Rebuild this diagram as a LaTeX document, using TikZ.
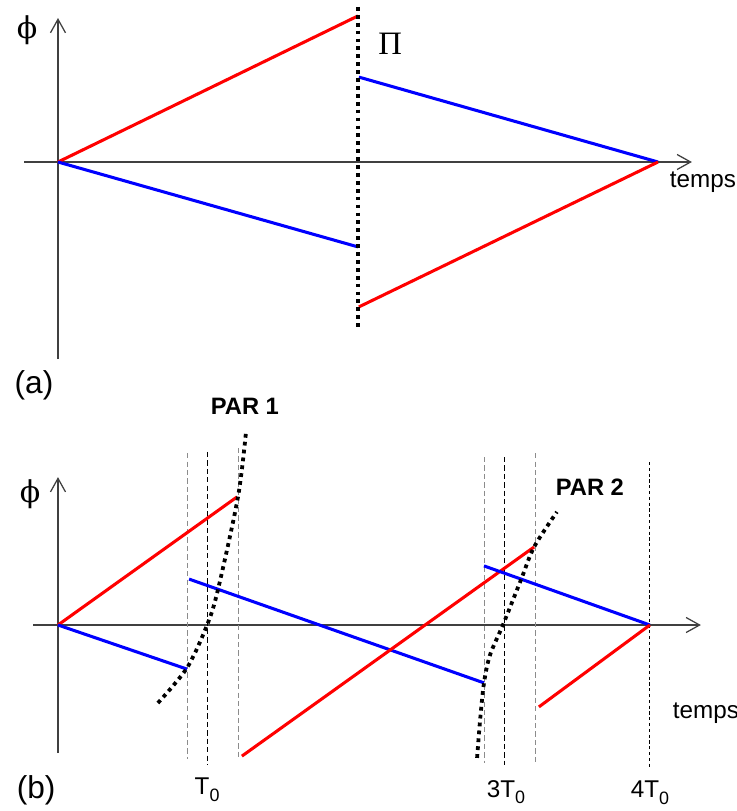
\documentclass[tikz,border=0pt]{standalone}
\usepackage{fontspec}
\setmainfont{Liberation Sans}
\newfontfamily\phifont{DejaVu Serif}
\newfontfamily\pifont{Liberation Serif}
\usetikzlibrary{arrows.meta}
\newcommand{\sub}[1]{\raisebox{-0.28em}{\fontsize{17}{20}\selectfont #1}}

\tikzset{
  axis/.style={line width=1.3pt, draw=black!75, -{Straight Barb[length=4.5mm, width=5mm, line width=1.2pt]}},
  redline/.style={red, line width=2.9pt},
  blueline/.style={blue, line width=2.9pt},
  fatdots/.style={line width=3.6pt, dash pattern=on 3.6pt off 3.9pt},
  greydash/.style={black!45, line width=0.9pt, dash pattern=on 5pt off 3pt},
  blackdash/.style={black, line width=0.9pt, dash pattern=on 5pt off 3pt},
  finedash/.style={black, line width=0.8pt, dash pattern=on 3pt off 2.5pt},
  lbl/.style={font=\fontsize{23}{27}\selectfont, inner sep=0pt},
  panellbl/.style={font=\fontsize{30}{36}\selectfont, inner sep=0pt},
  boldlbl/.style={font=\fontsize{22.5}{27}\selectfont\bfseries, inner sep=0pt},
  philbl/.style={font=\fontsize{28.5}{34}\phifont, inner sep=0pt},
  pilbl/.style={font=\fontsize{31}{36}\pifont, inner sep=0pt},
}

\begin{document}
\begin{tikzpicture}
\useasboundingbox (-1.933,5.4) rectangle (22.633,-21.633);

% (a) : single separation point
% Draw axes
\draw[axis] (0,-6.57) -- (0,4.8);
\draw[axis] (-1.13,0) -- (21.13,0);
\node[philbl] (phia) at (-1.03,4.4) {ϕ};
\node[lbl] (tempsa) at (21.5,-0.67) {temps};

% Phase ramps
\draw[redline] (0,0) -- (10,4.87);
\draw[blueline] (0,0) -- (10,-2.83);
\draw[blueline] (10.03,2.83) -- (20,0);
\draw[redline] (10.03,-4.83) -- (20,0);

% Jump line
\draw[fatdots] (10,5.17) -- (10,-5.57);
\node[pilbl] (pia) at (11.07,3.93) {Π};
\node[panellbl] (laba) at (-0.8,-7.43) {(a)};

% (b) : two separation points
\begin{scope}[shift={(0,-15.433)}]
  % Draw axes
  \draw[axis] (0,-4.27) -- (0,4.93);
  \draw[axis] (-0.83,0) -- (21.43,0);
  \node[philbl] (phib) at (-0.93,4.35) {ϕ};
  \node[lbl] (tempsb) at (21.6,-2.93) {temps};

  % Marker lines
  \draw[greydash] (4.33,5.73) -- (4.33,-4.47);
  \draw[blackdash] (4.97,5.77) -- (4.97,-4.67);
  \draw[greydash] (6.03,5.9) -- (6.03,-4.47);
  \draw[greydash] (14.2,5.6) -- (14.2,-4.6);
  \draw[blackdash] (14.87,5.6) -- (14.87,-4.67);
  \draw[greydash] (15.93,5.73) -- (15.93,-4.67);
  \draw[finedash] (19.73,5.43) -- (19.73,-4.73);

  % Phase ramps
  \draw[redline] (0,0) -- (5.97,4.27);
  \draw[blueline] (0,0) -- (4.3,-1.47);
  \draw[blueline] (4.37,1.53) -- (14.2,-1.93);
  \draw[redline] (6.13,-4.37) -- (15.87,2.6);
  \draw[blueline] (14.2,1.97) -- (19.73,0);
  \draw[redline] (16.03,-2.73) -- (19.73,0);

  % PAR curves
  \draw[fatdots] plot[smooth] coordinates {(3.33,-2.6) (4.3,-1.43) (4.97,0) (5.33,1.17) (6,4.27) (6.27,6.47)};
  \draw[fatdots] plot[smooth] coordinates {(13.97,-4.43) (14.07,-3.17) (14.2,-1.93) (14.4,-1) (14.83,0) (15.43,1.5) (15.87,2.6) (16.63,3.77)};
  \node[boldlbl] (par1) at (6.23,7.3) {PAR 1};
  \node[boldlbl] (par2) at (17.73,4.6) {PAR 2};

  % Time labels
  \node[lbl] (t1) at (4.97,-5.5) {T\sub{0}};
  \node[lbl] (t3) at (14.93,-5.57) {3T\sub{0}};
  \node[lbl] (t4) at (19.73,-5.6) {4T\sub{0}};
  \node[panellbl] (labb) at (-0.73,-5.5) {(b)};
\end{scope}
\end{tikzpicture}
\end{document}
